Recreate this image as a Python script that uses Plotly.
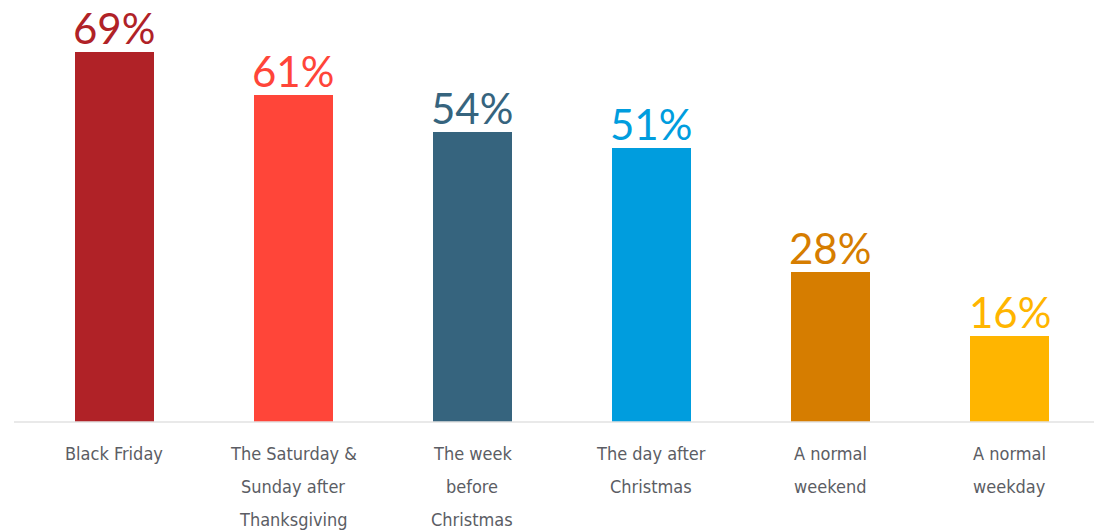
import plotly.graph_objects as go

# Share of shoppers, by shopping day
categories = [
    "Black Friday",
    "The Saturday &<br>Sunday after<br>Thanksgiving",
    "The week<br>before<br>Christmas",
    "The day after<br>Christmas",
    "A normal<br>weekend",
    "A normal<br>weekday",
]
values = [69, 61, 54, 51, 28, 16]
colors = ["#B02227", "#FF4539", "#36647E", "#009DDE", "#D67D00", "#FFB500"]

x_pos = list(range(len(categories)))

fig = go.Figure()
fig.add_trace(go.Bar(
    x=x_pos,
    y=values,
    width=0.44,
    marker=dict(color=colors, line=dict(width=0)),
    hoverinfo="skip",
))

# Percentage labels above each bar, in the bar's colour
for xi, v, c in zip(x_pos, values, colors):
    fig.add_annotation(
        x=xi, y=v, text=f"{v}%", showarrow=False,
        xanchor="center", yanchor="bottom", yshift=-3,
        font=dict(family="Lato", size=42, color=c),
    )

# Category labels under the baseline, one annotation per line
label_font = "DejaVu Sans Condensed, Liberation Sans Narrow, sans-serif"
line_shifts = [-31, -64, -97]
for xi, label in zip(x_pos, categories):
    for li, part in enumerate(label.split("<br>")):
        fig.add_annotation(
            x=xi, xref="x", y=0, yref="paper", text=part, showarrow=False,
            xanchor="center", yanchor="middle", yshift=line_shifts[li],
            font=dict(family=label_font, size=18, color="#5B5D64"),
        )

# Light baseline across the plot
fig.add_shape(type="line", xref="paper", yref="paper", x0=0, x1=1, y0=0, y1=0,
              line=dict(color="#E2E2E2", width=1.5))

fig.update_layout(
    width=1094, height=531,
    margin=dict(l=14, r=0, t=0, b=109),
    paper_bgcolor="white", plot_bgcolor="white",
    showlegend=False,
    bargap=0,
    xaxis=dict(range=[-0.561, 5.472], showticklabels=False, showgrid=False,
               zeroline=False, showline=False, fixedrange=True),
    yaxis=dict(range=[0, 78.67], showticklabels=False, showgrid=False,
               zeroline=False, showline=False, fixedrange=True),
)

fig.write_html("out.html")
